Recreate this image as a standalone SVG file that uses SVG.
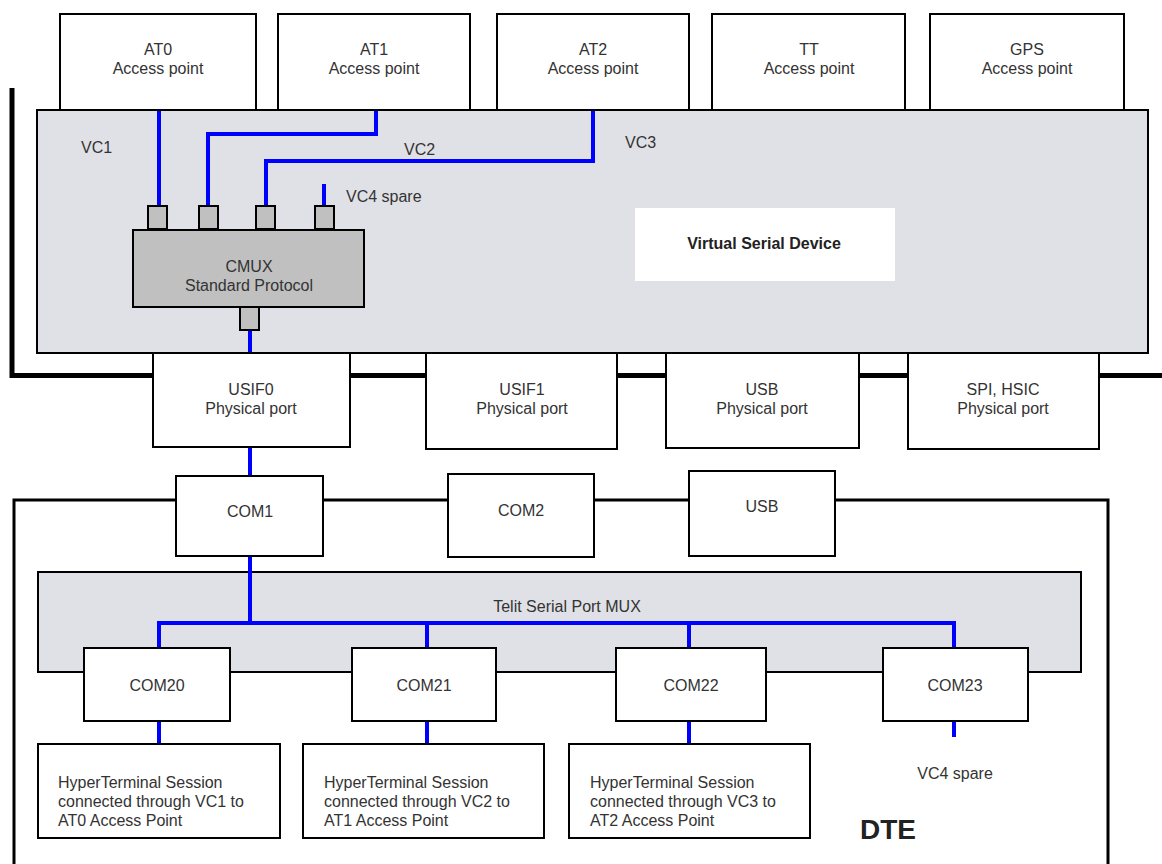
<svg xmlns="http://www.w3.org/2000/svg" width="1162" height="864" viewBox="0 0 1162 864">
<style>
.box{fill:#fff;stroke:#000;stroke-width:2}
.gray{fill:#e0e1e6;stroke:#000;stroke-width:2}
.cmux{fill:#c0c0c0;stroke:#000;stroke-width:2}
.port{fill:#c0c0c0;stroke:#000;stroke-width:2}
.t{font-family:"Liberation Sans",Arial,sans-serif;font-size:16px;fill:#333;text-anchor:middle}
.tl{font-family:"Liberation Sans",Arial,sans-serif;font-size:16px;fill:#333}
.b{font-weight:bold;fill:#222}
.blue{fill:none;stroke:#0000ff;stroke-width:4}
.thick{fill:none;stroke:#000;stroke-width:5}
.thin{fill:none;stroke:#000;stroke-width:3}
</style>
<rect width="1162" height="864" fill="#fff"/>
<g id="module-boundary">
<polyline class="thick" points="12,88 12,375.5 1162,375.5"/>
</g>
<g id="dte-boundary">
<polyline class="thin" points="14,864 14,500 1108,500 1108,864"/>
</g>
<g id="virtual-serial-device">
<rect class="gray" x="37" y="110" width="1111" height="243"/>
<rect x="635" y="208" width="260" height="73" fill="#fff"/>
<text class="t b" x="764" y="249">Virtual Serial Device</text>
</g>
<g id="telit-mux">
<rect class="gray" x="38" y="572" width="1043" height="100"/>
<text class="t" x="567" y="612">Telit Serial Port MUX</text>
</g>
<g id="connectors">
<polyline class="blue" points="159,110 159,206"/>
<polyline class="blue" points="376,110 376,134 208,134 208,206"/>
<polyline class="blue" points="593,110 593,161 266,161 266,206"/>
<polyline class="blue" points="324,184 324,206"/>
<polyline class="blue" points="250,330 250,476"/>
<polyline class="blue" points="250,556 250,623"/>
<polyline class="blue" points="159,648 159,623 954,623 954,648"/>
<polyline class="blue" points="427,623 427,648"/>
<polyline class="blue" points="689,623 689,648"/>
<polyline class="blue" points="159,721 159,744"/>
<polyline class="blue" points="427,721 427,744"/>
<polyline class="blue" points="689,721 689,744"/>
<polyline class="blue" points="954,721 954,737"/>
</g>
<g id="at0"><rect class="box" x="60" y="14" width="196" height="96"/><text class="t" x="158" y="55">AT0</text><text class="t" x="158" y="74">Access point</text></g>
<g id="at1"><rect class="box" x="278" y="14" width="192" height="96"/><text class="t" x="374" y="55">AT1</text><text class="t" x="374" y="74">Access point</text></g>
<g id="at2"><rect class="box" x="497" y="14" width="192" height="96"/><text class="t" x="593" y="55">AT2</text><text class="t" x="593" y="74">Access point</text></g>
<g id="tt"><rect class="box" x="712" y="14" width="193" height="96"/><text class="t" x="809" y="55">TT</text><text class="t" x="809" y="74">Access point</text></g>
<g id="gps"><rect class="box" x="930" y="14" width="194" height="96"/><text class="t" x="1027" y="55">GPS</text><text class="t" x="1027" y="74">Access point</text></g>
<g id="labels">
<text class="tl" x="81" y="153">VC1</text>
<text class="tl" x="404" y="155">VC2</text>
<text class="tl" x="625" y="148">VC3</text>
<text class="tl" x="346" y="202">VC4 spare</text>
</g>
<g id="cmux">
<rect class="port" x="148" y="206" width="19" height="23"/>
<rect class="port" x="199" y="206" width="19" height="23"/>
<rect class="port" x="256" y="206" width="19" height="23"/>
<rect class="port" x="315" y="206" width="19" height="23"/>
<rect class="cmux" x="133" y="230" width="231" height="77"/>
<rect class="port" x="240" y="307" width="19" height="23"/>
<text class="t" x="249" y="272">CMUX</text>
<text class="t" x="249" y="291">Standard Protocol</text>
</g>
<g id="usif0"><rect class="box" x="153" y="353" width="197" height="94"/><text class="t" x="251" y="395">USIF0</text><text class="t" x="251" y="414">Physical port</text></g>
<g id="usif1"><rect class="box" x="426" y="353" width="191" height="96"/><text class="t" x="522" y="395">USIF1</text><text class="t" x="522" y="414">Physical port</text></g>
<g id="usb-phys"><rect class="box" x="666" y="353" width="193" height="95"/><text class="t" x="762" y="395">USB</text><text class="t" x="762" y="414">Physical port</text></g>
<g id="spi-hsic"><rect class="box" x="908" y="353" width="191" height="96"/><text class="t" x="1003" y="395">SPI, HSIC</text><text class="t" x="1003" y="414">Physical port</text></g>
<g id="com1"><rect class="box" x="176" y="476" width="147" height="80"/><text class="t" x="250" y="517">COM1</text></g>
<g id="com2"><rect class="box" x="448" y="474" width="146" height="83"/><text class="t" x="521" y="516">COM2</text></g>
<g id="usb"><rect class="box" x="689" y="471" width="146" height="85"/><text class="t" x="762" y="512">USB</text></g>
<g id="com20"><rect class="box" x="84" y="648" width="146" height="73"/><text class="t" x="157" y="691">COM20</text></g>
<g id="com21"><rect class="box" x="352" y="648" width="144" height="73"/><text class="t" x="424" y="691">COM21</text></g>
<g id="com22"><rect class="box" x="616" y="648" width="150" height="73"/><text class="t" x="691" y="691">COM22</text></g>
<g id="com23"><rect class="box" x="883" y="648" width="145" height="73"/><text class="t" x="955" y="691">COM23</text></g>
<g id="ht1"><rect class="box" x="38" y="744" width="242" height="94"/><text class="tl" x="58" y="788">HyperTerminal Session</text><text class="tl" x="58" y="807">connected through VC1 to</text><text class="tl" x="58" y="826">AT0 Access Point</text></g>
<g id="ht2"><rect class="box" x="303" y="744" width="241" height="94"/><text class="tl" x="324" y="788">HyperTerminal Session</text><text class="tl" x="324" y="807">connected through VC2 to</text><text class="tl" x="324" y="826">AT1 Access Point</text></g>
<g id="ht3"><rect class="box" x="569" y="744" width="241" height="94"/><text class="tl" x="590" y="788">HyperTerminal Session</text><text class="tl" x="590" y="807">connected through VC3 to</text><text class="tl" x="590" y="826">AT2 Access Point</text></g>
<g id="vc4-dte"><text class="t" x="955" y="779">VC4 spare</text></g>
<g id="dte-label"><text class="tl b" x="860" y="839" style="font-size:28px">DTE</text></g>
</svg>
